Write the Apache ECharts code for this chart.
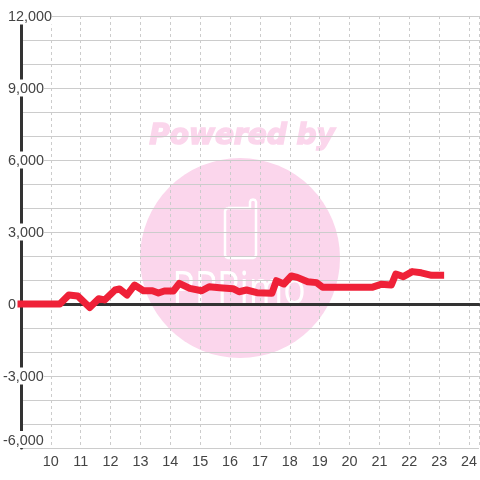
<!DOCTYPE html>
<html>
<head>
<meta charset="utf-8">
<script src="https://cdn.jsdelivr.net/npm/echarts@6/dist/echarts.min.js"></script>
</head>
<body style="margin:0;background:#fff">
<div id="container" style="width:480px;height:480px"></div>
<script>
var hours = [9, 10.3, 10.6, 10.9, 11.3, 11.6, 11.8, 12.15, 12.3, 12.55, 12.8, 13.1, 13.4, 13.6, 13.8, 14.1, 14.3, 14.65, 15.05, 15.3, 15.65, 16.1, 16.3, 16.55, 16.9, 17.4, 17.55, 17.8, 18.05, 18.25, 18.6, 18.9, 19.1, 20.75, 21.05, 21.4, 21.55, 21.8, 22.1, 22.4, 22.75, 23.05];
var values = [0, 0, 375, 333, -150, 220, 170, 583, 625, 375, 790, 550, 550, 458, 540, 540, 860, 650, 550, 720, 680, 640, 510, 583, 470, 445, 970, 833, 1167, 1110, 930, 890, 695, 695, 820, 790, 1250, 1140, 1350, 1300, 1195, 1195];
var yMin = -6000, yMax = 12000, yStep = 1000;
var xMin = 9, xMax = 24.3333;
var font = 'Liberation Sans';

var myChart = echarts.init(document.getElementById('container'));
var pink = '#fbd6ec';
// phone outline of the watermark
var phone = [[228, 208], [250, 208], [250, 202], [251, 200], [253, 199.5], [255, 200], [256, 202], [256, 255], [255, 257], [253, 258], [228, 258], [226, 257], [225, 255], [225, 211], [226, 209], [228, 208]];

myChart.setOption({
  animation: false,
  backgroundColor: '#fff',
  graphic: [
    { type: 'circle', z: -10, shape: { cx: 240, cy: 258, r: 100 }, style: { fill: pink } },
    { type: 'text', z: -10, x: 242, y: 137, style: { text: 'Powered by', fill: pink, stroke: pink, lineWidth: 1.5, font: 'italic bold 28px "DejaVu Sans"', align: 'center', verticalAlign: 'middle' } },
    { type: 'polyline', z: -9, shape: { points: phone }, style: { fill: 'none', stroke: '#fff', lineWidth: 2.5 } },
    { type: 'text', z: -9, x: 239, y: 291, scaleX: 0.81, style: { text: 'PPPimo', fill: '#fff', font: '46px "Open Sans"', align: 'center', verticalAlign: 'middle' } }
  ],
  grid: { left: 20.5, right: 0, top: 16, bottom: 32 },
  xAxis: [{
    type: 'value',
    min: xMin,
    max: xMax,
    interval: 1,
    position: 'bottom',
    axisLine: { show: false, onZero: false },
    axisTick: { show: false },
    axisLabel: { showMinLabel: false, showMaxLabel: false, margin: 7, color: '#444', fontFamily: font, fontSize: 14.4 },
    splitLine: { show: true, lineStyle: { color: '#ccc', type: [3, 3], width: 1 } }
  }, {
    type: 'value',
    min: xMin,
    max: xMax,
    interval: 1,
    position: 'bottom',
    axisLine: { show: true, onZero: true, onZeroAxisIndex: 0, lineStyle: { color: '#333', width: 3 } },
    axisTick: { show: false },
    axisLabel: { show: false },
    splitLine: { show: false }
  }],
  yAxis: {
    type: 'value',
    min: yMin,
    max: yMax,
    interval: yStep,
    axisLine: { show: true, onZero: false, lineStyle: { color: '#333', width: 3 } },
    axisTick: { show: false },
    splitLine: { show: true, lineStyle: { color: '#ccc', width: 1 } },
    axisLabel: {
      inside: true,
      margin: -18,
      align: 'left',
      verticalAlignMinLabel: 'bottom',
      color: '#444',
      fontFamily: font,
      fontSize: 14.4,
      formatter: function (v) {
        if (v % 3000 !== 0) return '';
        var s = Math.abs(v).toString().replace(/\B(?=(\d{3})+$)/g, ',');
        return v < 0 ? '{n|-' + s + '}' : '{p|' + s + '}';
      },
      rich: {
        n: { backgroundColor: '#fff', color: '#444', fontFamily: font, fontSize: 14.4, padding: [3, 0, 0, 0] },
        p: { backgroundColor: '#fff', color: '#444', fontFamily: font, fontSize: 14.4, padding: [3, 0, 0, 5] }
      }
    }
  },
  series: [{
    type: 'line',
    xAxisIndex: 0,
    data: hours.map(function (h, i) { return [h, values[i]]; }),
    showSymbol: false,
    symbol: 'none',
    clip: false,
    z: 5,
    lineStyle: { color: '#ef2138', width: 7, cap: 'square', join: 'round' }
  }]
});
</script>
</body>
</html>
